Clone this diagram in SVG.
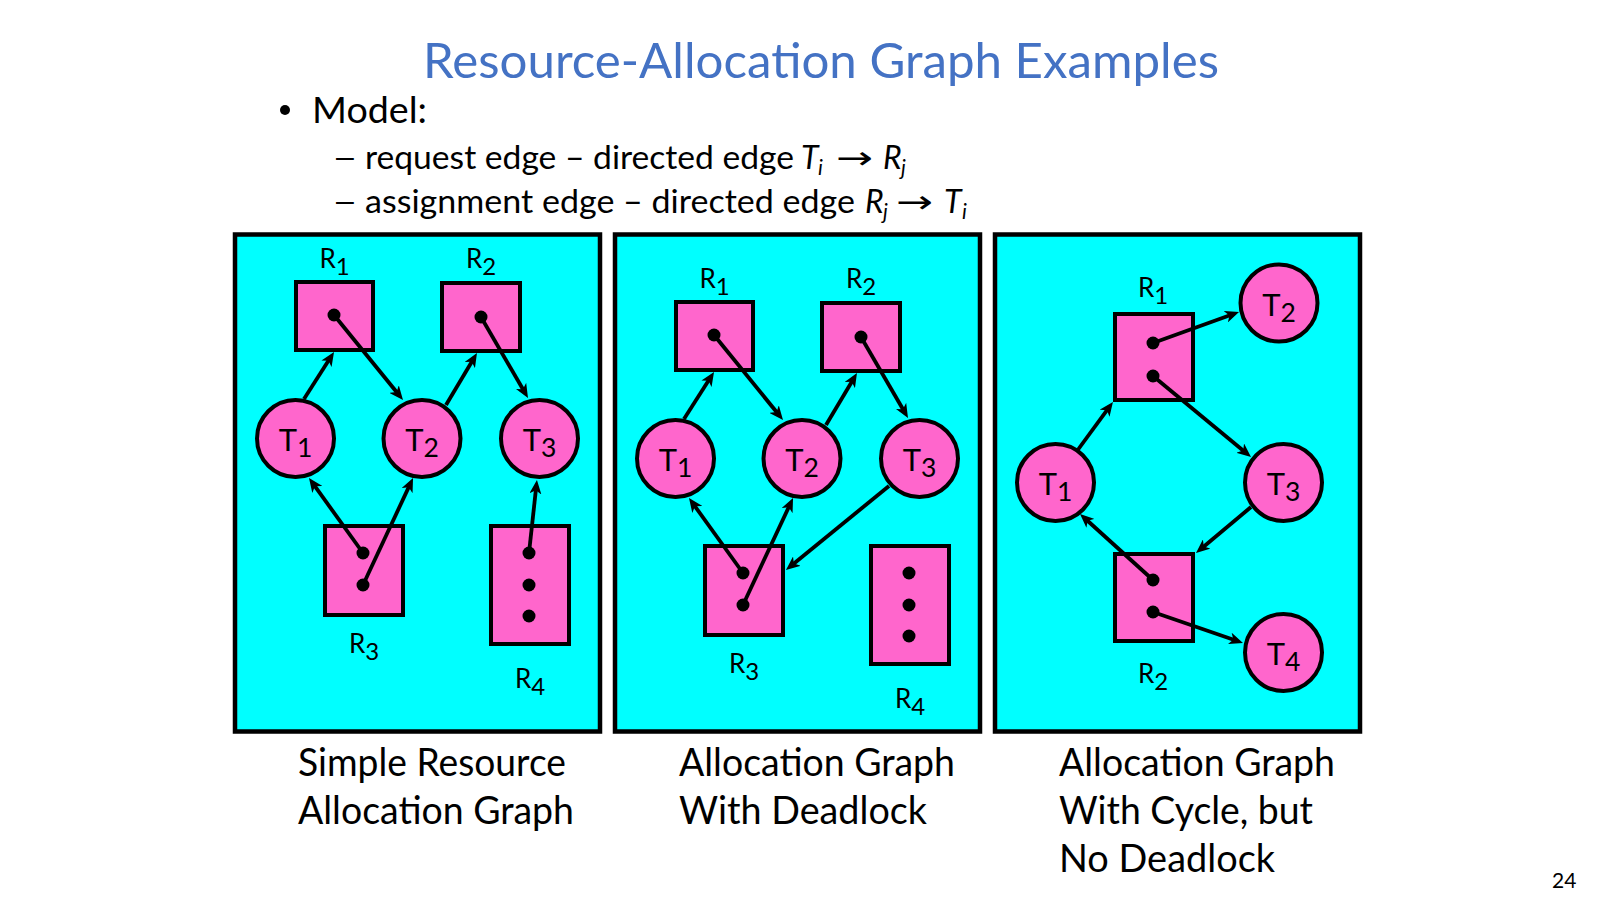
<svg xmlns="http://www.w3.org/2000/svg" width="1600" height="900" viewBox="0 0 1600 900">
<defs>
<style>
.panel{fill:#00FFFF;stroke:#000;stroke-width:4.5}
.res{fill:#FF66CC;stroke:#000;stroke-width:4}
.thr{fill:#FF66CC;stroke:#000;stroke-width:4}
.dot{fill:#000}
.edge{stroke:#000;stroke-width:3.8;fill:none;marker-end:url(#arr)}
.lbl{font-family:Lato,"Liberation Sans",sans-serif;fill:#000;text-anchor:middle}
.rl{font-size:26px}
.tl{font-size:31px}
.cap{font-family:Lato,"Liberation Sans",sans-serif;font-size:39px;fill:#000}
.body{font-family:Lato,"Liberation Sans",sans-serif;fill:#000}
.it{font-style:italic}
.dash{font-family:"Liberation Sans",sans-serif}
</style>
<marker id="arr" markerUnits="userSpaceOnUse" markerWidth="14" markerHeight="12" refX="8" refY="6" orient="auto">
<path d="M0,0 L14,6 L0,12 L3.8,6 Z" fill="#000"/>
</marker>
</defs>
<rect width="1600" height="900" fill="#fff"/>

<text x="821" y="78" text-anchor="middle" font-family="Lato,'Liberation Sans',sans-serif" font-size="48" fill="#4472C4" textLength="796" lengthAdjust="spacingAndGlyphs">Resource-Allocation Graph Examples</text>

<g id="bullets" class="body">
<circle cx="285" cy="110" r="5" fill="#000"/>
<text x="312" y="123" font-size="37" textLength="115" lengthAdjust="spacingAndGlyphs">Model:</text>
<text x="336" y="167" font-size="32" class="dash">–</text>
<text x="365" y="169" font-size="32" textLength="429" lengthAdjust="spacingAndGlyphs">request edge – directed edge</text>
<text x="801" y="169" font-size="32" class="it">T</text>
<text x="818" y="175" font-size="21" class="it">i</text>
<text x="836" y="169" font-size="32" font-family="'DejaVu Sans',sans-serif" textLength="37" lengthAdjust="spacingAndGlyphs">→</text>
<text x="883" y="169" font-size="32" class="it">R</text>
<text x="901" y="175" font-size="21" class="it">j</text>
<text x="336" y="211" font-size="32" class="dash">–</text>
<text x="365" y="213" font-size="32" textLength="490" lengthAdjust="spacingAndGlyphs">assignment edge – directed edge</text>
<text x="865" y="213" font-size="32" class="it">R</text>
<text x="883" y="219" font-size="21" class="it">j</text>
<text x="896" y="213" font-size="32" font-family="'DejaVu Sans',sans-serif" textLength="37" lengthAdjust="spacingAndGlyphs">→</text>
<text x="944" y="213" font-size="32" class="it">T</text>
<text x="962" y="219" font-size="21" class="it">i</text>
</g>

<g id="panels">
<rect class="panel" x="235" y="234.5" width="365" height="497"/>
<rect class="panel" x="615" y="234.5" width="365" height="497"/>
<rect class="panel" x="995" y="234.5" width="365" height="497"/>
</g>

<!-- Panel 1 -->
<g id="p1-R1"><rect class="res" x="296" y="282" width="77" height="68"/><circle class="dot" cx="334" cy="315" r="6.5"/><text class="lbl rl" x="334.5" y="268">R<tspan dy="7" font-size="24">1</tspan></text></g>
<g id="p1-R2"><rect class="res" x="442" y="283" width="78" height="68"/><circle class="dot" cx="481" cy="317" r="6.5"/><text class="lbl rl" x="481" y="268">R<tspan dy="7" font-size="24">2</tspan></text></g>
<g id="p1-R3"><rect class="res" x="325" y="526" width="78" height="89"/><circle class="dot" cx="363" cy="553" r="6.5"/><circle class="dot" cx="363" cy="585" r="6.5"/><text class="lbl rl" x="364" y="653">R<tspan dy="7" font-size="24">3</tspan></text></g>
<g id="p1-R4"><rect class="res" x="491" y="526" width="78" height="118"/><circle class="dot" cx="529" cy="553" r="6.5"/><circle class="dot" cx="529" cy="585" r="6.5"/><circle class="dot" cx="529" cy="616" r="6.5"/><text class="lbl rl" x="530" y="688">R<tspan dy="7" font-size="24">4</tspan></text></g>
<g id="p1-T1"><circle class="thr" cx="295.5" cy="438.5" r="38.5"/><text class="lbl tl" x="295.5" y="451">T<tspan dy="6" font-size="26.5">1</tspan></text></g>
<g id="p1-T2"><circle class="thr" cx="422" cy="438.5" r="38.5"/><text class="lbl tl" x="422" y="451">T<tspan dy="6" font-size="26.5">2</tspan></text></g>
<g id="p1-T3"><circle class="thr" cx="539.5" cy="438.5" r="38.5"/><text class="lbl tl" x="539.5" y="451">T<tspan dy="6" font-size="26.5">3</tspan></text></g>

<!-- Panel 2 -->
<g id="p2-R1"><rect class="res" x="676" y="302" width="77" height="68"/><circle class="dot" cx="714" cy="335" r="6.5"/><text class="lbl rl" x="714.5" y="288">R<tspan dy="7" font-size="24">1</tspan></text></g>
<g id="p2-R2"><rect class="res" x="822" y="303" width="78" height="68"/><circle class="dot" cx="861" cy="337" r="6.5"/><text class="lbl rl" x="861" y="288">R<tspan dy="7" font-size="24">2</tspan></text></g>
<g id="p2-R3"><rect class="res" x="705" y="546" width="78" height="89"/><circle class="dot" cx="743" cy="573" r="6.5"/><circle class="dot" cx="743" cy="605" r="6.5"/><text class="lbl rl" x="744" y="673">R<tspan dy="7" font-size="24">3</tspan></text></g>
<g id="p2-R4"><rect class="res" x="871" y="546" width="78" height="118"/><circle class="dot" cx="909" cy="573" r="6.5"/><circle class="dot" cx="909" cy="605" r="6.5"/><circle class="dot" cx="909" cy="636" r="6.5"/><text class="lbl rl" x="910" y="708">R<tspan dy="7" font-size="24">4</tspan></text></g>
<g id="p2-T1"><circle class="thr" cx="675.5" cy="458.5" r="38.5"/><text class="lbl tl" x="675.5" y="471">T<tspan dy="6" font-size="26.5">1</tspan></text></g>
<g id="p2-T2"><circle class="thr" cx="802" cy="458.5" r="38.5"/><text class="lbl tl" x="802" y="471">T<tspan dy="6" font-size="26.5">2</tspan></text></g>
<g id="p2-T3"><circle class="thr" cx="919.5" cy="458.5" r="38.5"/><text class="lbl tl" x="919.5" y="471">T<tspan dy="6" font-size="26.5">3</tspan></text></g>

<!-- Panel 3 -->
<g id="p3-R1"><rect class="res" x="1115" y="314" width="78" height="86"/><circle class="dot" cx="1153" cy="343" r="6.5"/><circle class="dot" cx="1153" cy="376" r="6.5"/><text class="lbl rl" x="1153" y="297">R<tspan dy="7" font-size="24">1</tspan></text></g>
<g id="p3-R2"><rect class="res" x="1115" y="554" width="78" height="87"/><circle class="dot" cx="1153" cy="580" r="6.5"/><circle class="dot" cx="1153" cy="612" r="6.5"/><text class="lbl rl" x="1153" y="683">R<tspan dy="7" font-size="24">2</tspan></text></g>
<g id="p3-T1"><circle class="thr" cx="1055.5" cy="482.5" r="38.5"/><text class="lbl tl" x="1055.5" y="495">T<tspan dy="6" font-size="26.5">1</tspan></text></g>
<g id="p3-T2"><circle class="thr" cx="1279" cy="303" r="38.5"/><text class="lbl tl" x="1279" y="315.5">T<tspan dy="6" font-size="26.5">2</tspan></text></g>
<g id="p3-T3"><circle class="thr" cx="1283.5" cy="482.5" r="38.5"/><text class="lbl tl" x="1283.5" y="495">T<tspan dy="6" font-size="26.5">3</tspan></text></g>
<g id="p3-T4"><circle class="thr" cx="1283.5" cy="652.5" r="38.5"/><text class="lbl tl" x="1283.5" y="665">T<tspan dy="6" font-size="26.5">4</tspan></text></g>

<g id="connectors">
<line class="edge" x1="304" y1="399" x2="330.8" y2="357.1"/>
<line class="edge" x1="334" y1="315" x2="399.2" y2="395.3"/>
<line class="edge" x1="446" y1="405" x2="473.9" y2="358.2"/>
<line class="edge" x1="481" y1="317" x2="525.0" y2="392.8"/>
<line class="edge" x1="363" y1="553" x2="312.5" y2="482.9"/>
<line class="edge" x1="363" y1="585" x2="410.5" y2="483.4"/>
<line class="edge" x1="529" y1="553" x2="536.3" y2="486.0"/>

<line class="edge" x1="684" y1="419" x2="710.8" y2="377.1"/>
<line class="edge" x1="714" y1="335" x2="779.2" y2="415.3"/>
<line class="edge" x1="826" y1="425" x2="853.9" y2="378.2"/>
<line class="edge" x1="861" y1="337" x2="905.0" y2="412.8"/>
<line class="edge" x1="743" y1="573" x2="692.5" y2="502.9"/>
<line class="edge" x1="743" y1="605" x2="790.5" y2="503.4"/>
<line class="edge" x1="889" y1="486" x2="790.6" y2="566.2"/>

<line class="edge" x1="1153" y1="343" x2="1233.4" y2="314.0"/>
<line class="edge" x1="1153" y1="376" x2="1246.4" y2="453.2"/>
<line class="edge" x1="1077" y1="451" x2="1109.4" y2="406.8"/>
<line class="edge" x1="1251" y1="507" x2="1200.6" y2="549.2"/>
<line class="edge" x1="1153" y1="580" x2="1084.5" y2="518.0"/>
<line class="edge" x1="1153" y1="612" x2="1237.3" y2="641.0"/>
</g>

<g id="captions">
<text class="cap" x="298" y="776" textLength="268" lengthAdjust="spacingAndGlyphs">Simple Resource</text>
<text class="cap" x="298" y="824" textLength="276" lengthAdjust="spacingAndGlyphs">Allocation Graph</text>
<text class="cap" x="679" y="776" textLength="276" lengthAdjust="spacingAndGlyphs">Allocation Graph</text>
<text class="cap" x="679" y="824" textLength="248" lengthAdjust="spacingAndGlyphs">With Deadlock</text>
<text class="cap" x="1059" y="776" textLength="276" lengthAdjust="spacingAndGlyphs">Allocation Graph</text>
<text class="cap" x="1059" y="824" textLength="254" lengthAdjust="spacingAndGlyphs">With Cycle, but</text>
<text class="cap" x="1059" y="872" textLength="216" lengthAdjust="spacingAndGlyphs">No Deadlock</text>
</g>

<text x="1552" y="888" font-family="Lato,'Liberation Sans',sans-serif" font-size="21" fill="#000">24</text>
</svg>
